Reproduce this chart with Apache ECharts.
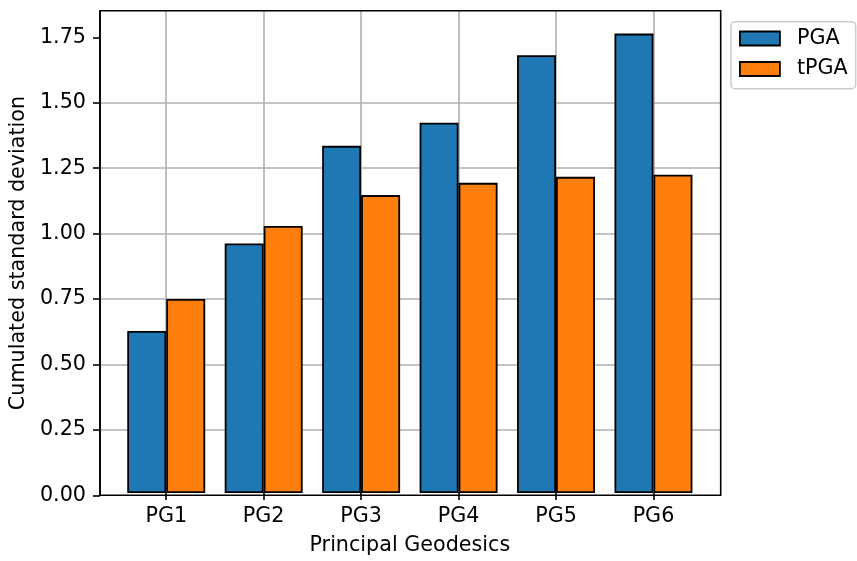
<!DOCTYPE html>
<html>
<head>
<meta charset="utf-8">
<script src="https://cdn.jsdelivr.net/npm/echarts@6/dist/echarts.min.js"></script>
<style>html,body{margin:0;padding:0;background:#fff}#c{width:857px;height:561px}</style>
</head>
<body>
<div id="c"></div>
<script>
var categories = ['PG1', 'PG2', 'PG3', 'PG4', 'PG5', 'PG6'];
var pgaValues = [0.622, 0.958, 1.333, 1.422, 1.681, 1.764];
var tpgaValues = [0.745, 1.025, 1.144, 1.191, 1.214, 1.222];
var yTicks = [0, 0.25, 0.5, 0.75, 1.0, 1.25, 1.5, 1.75];
var yMax = 1.852;

var FONT = 'DejaVu Sans';
var FS = 20.7;
var chart = echarts.init(document.getElementById('c'), null, {renderer: 'canvas'});

var plotLeft = 99, plotTop = 10.7, plotW = 621.7, plotH = 484.6;
var unit = plotW / 6.38;
var catLeft = plotLeft + 0.69 * unit - unit / 2;

chart.setOption({
  animation: false,
  backgroundColor: '#fff',
  textStyle: {fontFamily: FONT, color: '#000'},
  grid: [
    {left: plotLeft, top: plotTop, width: plotW, height: plotH, show: true,
     borderColor: '#000', borderWidth: 1.6, backgroundColor: 'transparent', containLabel: false, z: 5},
    {left: catLeft, top: plotTop, width: unit * 6, height: plotH, containLabel: false},
    {left: plotLeft + 0.69 * unit, top: plotTop, width: unit * 5, height: plotH, containLabel: false}
  ],
  xAxis: [
    {gridIndex: 0, type: 'value', min: 0, max: 1, show: false},
    {gridIndex: 1, type: 'category', data: categories,
     axisLine: {show: false},
     axisTick: {show: true, alignWithLabel: true, length: 7, lineStyle: {color: '#000', width: 1.6}},
     axisLabel: {color: '#000', fontFamily: FONT, fontSize: FS, margin: 13},
     splitLine: {show: false},
     name: 'Principal Geodesics', nameLocation: 'middle', nameGap: 42,
     nameTextStyle: {color: '#000', fontFamily: FONT, fontSize: FS}},
    {gridIndex: 2, type: 'value', min: 0, max: 5, interval: 1,
     axisLine: {show: false}, axisTick: {show: false}, axisLabel: {show: false},
     splitLine: {show: true, lineStyle: {color: '#b0b0b0', width: 1.6}}}
  ],
  yAxis: [
    {gridIndex: 0, type: 'value', min: 0, max: yMax,
     axisLine: {show: true, lineStyle: {color: '#000', width: 1.6}},
     axisTick: {show: true, length: 7, lineStyle: {color: '#000', width: 1.6}, customValues: yTicks},
     axisLabel: {color: '#000', fontFamily: FONT, fontSize: FS, margin: 14, customValues: yTicks,
       formatter: function (v) { return v.toFixed(2); }},
     splitLine: {show: true, showMinLine: false, showMaxLine: false, lineStyle: {color: '#b0b0b0', width: 1.6}},
     name: 'Cumulated standard deviation', nameLocation: 'middle', nameGap: 67,
     nameTextStyle: {color: '#000', fontFamily: FONT, fontSize: FS}},
    {gridIndex: 1, type: 'value', min: 0, max: yMax, show: false},
    {gridIndex: 2, type: 'value', min: 0, max: yMax, show: false}
  ],
  legend: {
    orient: 'vertical', left: 731, top: 21.7,
    padding: [6.3, 8, 9.2, 8], itemGap: 9.5,
    itemWidth: 40, itemHeight: 14, icon: 'rect',
    backgroundColor: 'rgba(255,255,255,0.8)', borderColor: '#cccccc', borderWidth: 1.5, borderRadius: 4,
    textStyle: {color: '#000', fontFamily: FONT, fontSize: FS, lineHeight: 20, padding: [0, 0, 0, 12]},
    itemStyle: {borderColor: '#000', borderWidth: 1.8},
    data: ['PGA', 'tPGA']
  },
  series: [
    {name: 'PGA', type: 'bar', xAxisIndex: 1, yAxisIndex: 1, data: pgaValues,
     barWidth: 0.4 * unit, barGap: '0%',
     itemStyle: {color: '#1f77b4', borderColor: '#000', borderWidth: 1.8}, z: 3},
    {name: 'tPGA', type: 'bar', xAxisIndex: 1, yAxisIndex: 1, data: tpgaValues,
     barWidth: 0.4 * unit, barGap: '0%',
     itemStyle: {color: '#ff7f0e', borderColor: '#000', borderWidth: 1.8}, z: 3}
  ]
});
</script>
</body>
</html>
